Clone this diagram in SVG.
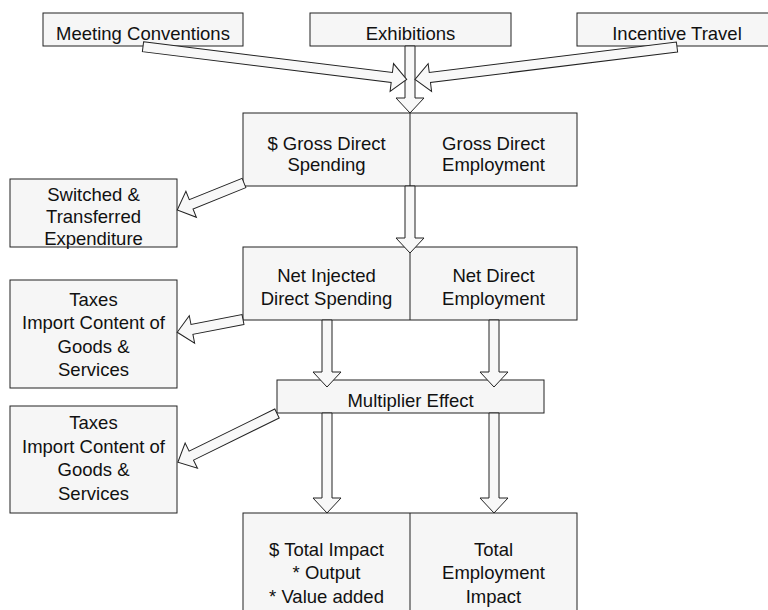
<svg xmlns="http://www.w3.org/2000/svg" width="768" height="610" viewBox="0 0 768 610">
<style>
.box{fill:#f6f6f6;stroke:#222;stroke-width:1}
.div{stroke:#222;stroke-width:1}
.t{font-family:"Liberation Sans",Arial,sans-serif;font-size:18.5px;fill:#111;text-anchor:middle}
.arr{fill:#f8f8f8;stroke:#222;stroke-width:1;stroke-linejoin:miter}
</style>
<rect width="768" height="610" fill="#fff"/>
<g id="meeting"><rect class="box" x="43" y="13" width="200" height="33"/><text class="t" x="143" y="40">Meeting Conventions</text></g>
<g id="exhibitions"><rect class="box" x="310" y="13" width="201" height="33"/><text class="t" x="410.5" y="40">Exhibitions</text></g>
<g id="incentive"><rect class="box" x="577" y="13" width="200" height="33"/><text class="t" x="677" y="40">Incentive Travel</text></g>
<g id="gross"><rect class="box" x="243" y="113" width="334" height="73"/><line class="div" x1="410" y1="113" x2="410" y2="186"/>
<text class="t" x="326.5" y="149.5">$ Gross Direct</text><text class="t" x="326.5" y="171">Spending</text>
<text class="t" x="493.5" y="149.5">Gross Direct</text><text class="t" x="493.5" y="171">Employment</text></g>
<g id="switched"><rect class="box" x="10" y="179" width="167" height="68"/>
<text class="t" x="93.5" y="200.5">Switched &amp;</text><text class="t" x="93.5" y="222.5">Transferred</text><text class="t" x="93.5" y="244.5">Expenditure</text></g>
<g id="net"><rect class="box" x="243" y="247" width="334" height="73"/><line class="div" x1="410" y1="247" x2="410" y2="320"/>
<text class="t" x="326.5" y="282">Net Injected</text><text class="t" x="326.5" y="305">Direct Spending</text>
<text class="t" x="493.5" y="282">Net Direct</text><text class="t" x="493.5" y="305">Employment</text></g>
<g id="taxes1"><rect class="box" x="10" y="280" width="167" height="108"/>
<text class="t" x="93.5" y="305.5">Taxes</text><text class="t" x="93.5" y="329">Import Content of</text><text class="t" x="93.5" y="352.5">Goods &amp;</text><text class="t" x="93.5" y="376">Services</text></g>
<g id="multiplier"><rect class="box" x="277" y="380" width="267" height="33"/><text class="t" x="410.5" y="406.5">Multiplier Effect</text></g>
<g id="taxes2"><rect class="box" x="10" y="406" width="167" height="107"/>
<text class="t" x="93.5" y="429">Taxes</text><text class="t" x="93.5" y="452.5">Import Content of</text><text class="t" x="93.5" y="476">Goods &amp;</text><text class="t" x="93.5" y="499.5">Services</text></g>
<g id="total"><rect class="box" x="243" y="513" width="334" height="110"/><line class="div" x1="410" y1="513" x2="410" y2="623"/>
<text class="t" x="326.5" y="555.5">$ Total Impact</text><text class="t" x="326.5" y="579">* Output</text><text class="t" x="326.5" y="602.5">* Value added</text>
<text class="t" x="493.5" y="555.5">Total</text><text class="t" x="493.5" y="579">Employment</text><text class="t" x="493.5" y="602.5">Impact</text></g>
<g id="connectors">
<polygon class="arr" transform="translate(410,46) rotate(90)" points="0,-5 52,-5 52,-14 67,0 52,14 52,5 0,5"/>
<polygon class="arr" transform="translate(143,46.7) rotate(7.05)" points="0,-5 250.7,-5 250.7,-14 265.7,0 250.7,14 250.7,5 0,5"/>
<polygon class="arr" transform="translate(677,47) rotate(172.97)" points="0,-5 249,-5 249,-14 264,0 249,14 249,5 0,5"/>
<polygon class="arr" transform="translate(244,183) rotate(158)" points="0,-5 57,-5 57,-14 72,0 57,14 57,5 0,5"/>
<polygon class="arr" transform="translate(243,319.5) rotate(169)" points="0,-5 52,-5 52,-14 67,0 52,14 52,5 0,5"/>
<polygon class="arr" transform="translate(277,413.5) rotate(153.8)" points="0,-5 95.5,-5 95.5,-14 110.5,0 95.5,14 95.5,5 0,5"/>
<polygon class="arr" transform="translate(410,186) rotate(90)" points="0,-5 52,-5 52,-14 67,0 52,14 52,5 0,5"/>
<polygon class="arr" transform="translate(327,320) rotate(90)" points="0,-5 52,-5 52,-14 67,0 52,14 52,5 0,5"/>
<polygon class="arr" transform="translate(494,320) rotate(90)" points="0,-5 52,-5 52,-14 67,0 52,14 52,5 0,5"/>
<polygon class="arr" transform="translate(327,413) rotate(90)" points="0,-5 85,-5 85,-14 100,0 85,14 85,5 0,5"/>
<polygon class="arr" transform="translate(494,413) rotate(90)" points="0,-5 85,-5 85,-14 100,0 85,14 85,5 0,5"/>
</g>
</svg>
